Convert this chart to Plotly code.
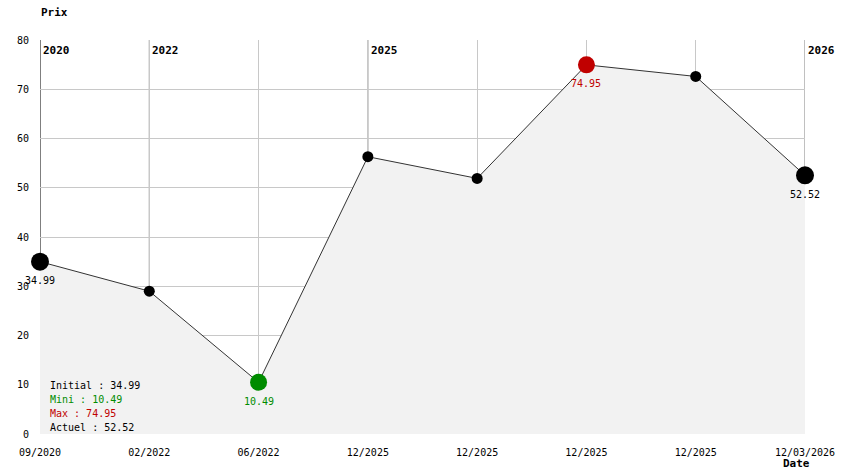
import plotly.graph_objects as go

dates = ["09/2020", "02/2022", "06/2022", "12/2025", "12/2025", "12/2025", "12/2025", "12/03/2026"]
prices = [34.99, 29.0, 10.49, 56.3, 51.9, 74.95, 72.6, 52.52]
year_idx = [0, 1, 3, 7]
year_labels = ["2020", "2022", "2025", "2026"]
y_ticks = [0, 10, 20, 30, 40, 50, 60, 70, 80]

FONT = "DejaVu Sans Mono"
GREEN = "#008C00"
RED = "#C00000"

xs = list(range(len(prices)))
imin = prices.index(min(prices))
imax = prices.index(max(prices))
last = len(prices) - 1

sizes, colors = [], []
for i in xs:
    if i == imin:
        sizes.append(17); colors.append(GREEN)
    elif i == imax:
        sizes.append(17); colors.append(RED)
    elif i in (0, last):
        sizes.append(18); colors.append("black")
    else:
        sizes.append(11); colors.append("black")

fig = go.Figure()
fig.add_trace(go.Scatter(
    x=xs, y=prices, mode="lines", fill="tozeroy", fillcolor="#f2f2f2",
    line=dict(color="#333333", width=1), hoverinfo="skip", cliponaxis=False))

# year marker lines
for i, lab in zip(year_idx, year_labels):
    fig.add_shape(type="line", xref="x", yref="y", x0=i, x1=i, y0=prices[i], y1=80,
                  line=dict(color="#808080" if i else "#000000", width=1), layer="below")
    fig.add_annotation(x=i, y=80, xref="x", yref="y", text="<b>" + lab + "</b>", showarrow=False,
                       xanchor="left", yanchor="top", xshift=1, yshift=-2,
                       font=dict(family=FONT, size=11, color="black"))

fig.add_trace(go.Scatter(
    x=xs, y=prices, mode="markers",
    marker=dict(size=sizes, color=colors, opacity=1, line=dict(width=0)),
    hoverinfo="skip", cliponaxis=False))

for i, c in [(0, "black"), (imin, GREEN), (imax, RED), (last, "black")]:
    fig.add_annotation(x=i, y=prices[i], xref="x", yref="y", text=f"{prices[i]:.2f}", showarrow=False,
                       yshift=-19, font=dict(family=FONT, size=10, color=c))

summary = [("Initial : %.2f" % prices[0], "black"),
           ("Mini : %.2f" % prices[imin], GREEN),
           ("Max : %.2f" % prices[imax], RED),
           ("Actuel : %.2f" % prices[last], "black")]
plot_h = 394
for k, (t, c) in enumerate(summary):
    fig.add_annotation(x=0.0105, y=(434 - (385 + 14 * k)) / plot_h, xref="paper", yref="paper",
                       yanchor="middle", xanchor="left", showarrow=False, text=t,
                       font=dict(family=FONT, size=10, color=c))

fig.add_annotation(x=0, y=1, xref="paper", yref="paper", text="<b>Prix</b>", showarrow=False,
                   xanchor="left", yanchor="middle", yshift=28, xshift=-1,
                   font=dict(family=FONT, size=11, color="black"))
fig.add_annotation(x=1, y=0, xref="paper", yref="paper", text="<b>Date</b>", showarrow=False,
                   xanchor="right", yanchor="middle", yshift=-29, xshift=7,
                   font=dict(family=FONT, size=11, color="black"))

fig.update_layout(
    width=844, height=474, margin=dict(l=40, r=39, t=40, b=40),
    paper_bgcolor="white", plot_bgcolor="white", showlegend=False,
    font=dict(family=FONT, size=10, color="black"),
    xaxis=dict(range=[0, last], tickvals=xs, ticktext=dates, showgrid=True, gridcolor="#c8c8c8",
               gridwidth=1, zeroline=False, showline=False, ticks="outside", ticklen=9,
               tickcolor="rgba(0,0,0,0)", tickfont=dict(family=FONT, size=10), automargin=False),
    yaxis=dict(range=[0, 80], tickvals=y_ticks, showgrid=True, gridcolor="#c8c8c8", gridwidth=1,
               zeroline=False, showline=False, ticks="outside", ticklen=8,
               tickcolor="rgba(0,0,0,0)", tickfont=dict(family=FONT, size=10), automargin=False),
)

fig.write_html("out.html", config={"displayModeBar": False},
               post_script="document.body.style.margin='0px';document.body.style.overflow='hidden';")
